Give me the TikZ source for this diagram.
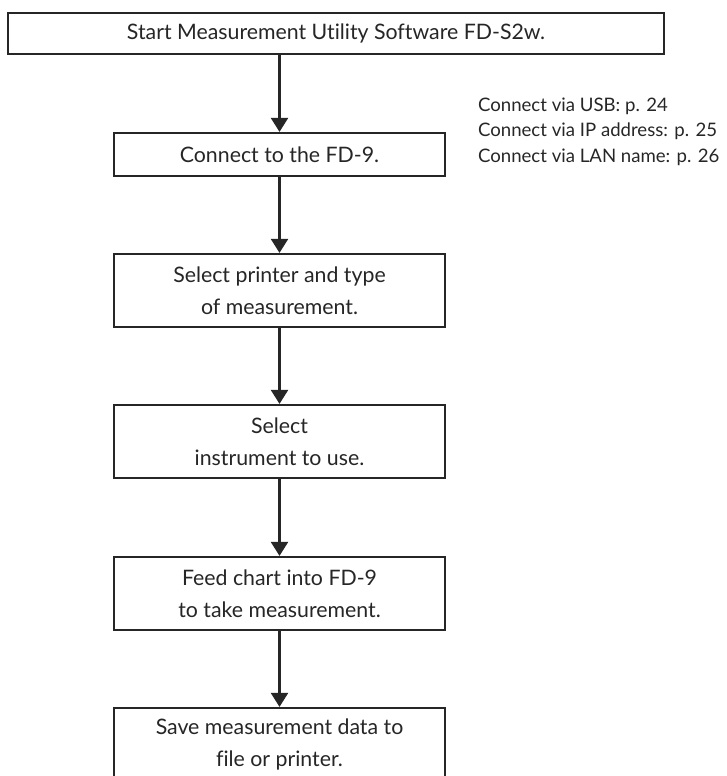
\documentclass[tikz,border=0pt]{standalone}
\usepackage{fontspec}
\setmainfont[Ligatures={NoCommon}]{Lato}
\usetikzlibrary{arrows.meta}

\tikzset{every picture/.style={line width=2.2pt}}
\tikzset{
  stepbox/.style={draw=black!85, fill=white, inner sep=0pt, align=center,
    minimum width=331, text=black!85, font=\fontsize{21.3}{32}\selectfont},
  flowarrow/.style={draw=black!85, -{Triangle[width=17pt,length=14pt]}},
  note/.style={anchor=west, align=left, inner sep=0pt, text=black!85,
    font=\fontsize{18.6}{25.5}\selectfont}
}

\begin{document}
\begin{tikzpicture}[x=1pt,y=1pt,yscale=-1,xscale=1]
\useasboundingbox (0,0) rectangle (726,776);

% Text Node
\node [stepbox, minimum width=656, minimum height=41] (start) at (336,33.5) {Start Measurement Utility Software FD-S2w.};
% Text Node
\node [stepbox, minimum height=43] (connect) at (279.5,154.5) {Connect to the FD-9.};
% Text Node
\node [stepbox, minimum height=73] (printer) at (279.5,290.5) {Select printer and type\\of measurement.};
% Text Node
\node [stepbox, minimum height=73] (instrument) at (279.5,441.5) {Select\\instrument to use.};
% Text Node
\node [stepbox, minimum height=73] (feed) at (279.5,593.5) {Feed chart into FD-9\\to take measurement.};
% Text Node
\node [stepbox, minimum height=73] (save) at (279.5,744.5) {Save measurement data to\\file or printer.};
% Text Node
\node [note] (links) at (477,131.5) {Connect via USB: p. 24\\Connect via IP address: p. 25\\Connect via LAN name: p. 26};

% Arrows
\draw [flowarrow] (connect.north |- start.south) -- (connect.north);
\draw [flowarrow] (connect) -- (printer);
\draw [flowarrow] (printer) -- (instrument);
\draw [flowarrow] (instrument) -- (feed);
\draw [flowarrow] (feed) -- (save);

\end{tikzpicture}
\end{document}
